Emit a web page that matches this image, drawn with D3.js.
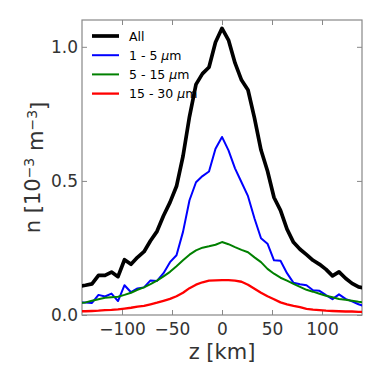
<!DOCTYPE html>
<html>
<head>
<meta charset="utf-8">
<script src="https://cdn.jsdelivr.net/npm/d3@7"></script>
<style>
  body { margin: 0; background: #fff; }
  text { font-family: "DejaVu Sans", sans-serif; }
</style>
</head>
<body>
<svg id="chart" width="382" height="382"></svg>
<script>
// altitude grid [km]
const zKm = [-143, -136.5, -130, -123.5, -117, -110.5, -104, -97.5, -91, -84.5, -78, -71.5, -65, -58.5, -52, -45.5, -39, -32.5, -26, -19.5, -13, -6.5,
  0, 6.5, 13, 19.5, 26, 32.5, 39, 45.5, 52, 58.5, 65, 71.5, 78, 84.5, 91, 97.5, 104, 110.5, 117, 123.5, 130, 136.5, 143];

// densities [1e-3 m^-3]
const nAll = [0.107, 0.111, 0.116, 0.148, 0.148, 0.160, 0.143, 0.206, 0.189, 0.215, 0.236, 0.277, 0.312, 0.370, 0.420, 0.480, 0.592, 0.740, 0.860, 0.900, 0.924, 1.017,
  1.069, 1.025, 0.940, 0.876, 0.839, 0.734, 0.615, 0.537, 0.438, 0.390, 0.320, 0.271, 0.245, 0.225, 0.204, 0.189, 0.170, 0.146, 0.161, 0.137, 0.118, 0.105, 0.100];
const n1to5 = [0.047, 0.047, 0.045, 0.075, 0.069, 0.080, 0.052, 0.111, 0.085, 0.099, 0.103, 0.129, 0.127, 0.156, 0.197, 0.223, 0.310, 0.428, 0.495, 0.518, 0.535, 0.620,
  0.664, 0.614, 0.547, 0.495, 0.443, 0.360, 0.286, 0.266, 0.204, 0.202, 0.156, 0.120, 0.115, 0.111, 0.092, 0.090, 0.074, 0.059, 0.077, 0.060, 0.051, 0.040, 0.032];
const n5to15 = [0.044, 0.047, 0.053, 0.059, 0.064, 0.066, 0.068, 0.075, 0.083, 0.094, 0.103, 0.115, 0.128, 0.144, 0.161, 0.182, 0.204, 0.225, 0.241, 0.251, 0.256, 0.262,
  0.272, 0.264, 0.253, 0.243, 0.234, 0.215, 0.197, 0.172, 0.154, 0.139, 0.128, 0.116, 0.105, 0.094, 0.087, 0.079, 0.072, 0.066, 0.060, 0.057, 0.053, 0.049, 0.047];
const n15to30 = [0.014, 0.014, 0.015, 0.016, 0.018, 0.019, 0.021, 0.024, 0.027, 0.031, 0.034, 0.040, 0.046, 0.053, 0.060, 0.070, 0.083, 0.100, 0.113, 0.122, 0.128, 0.129,
  0.130, 0.130, 0.128, 0.124, 0.113, 0.098, 0.083, 0.070, 0.059, 0.047, 0.040, 0.034, 0.029, 0.023, 0.020, 0.018, 0.016, 0.015, 0.014, 0.013, 0.013, 0.012, 0.012];

const xTicks = [-100, -50, 0, 50, 100];
const yTicks = [0.0, 0.5, 1.0];

const series = [
  { label: "All", values: nAll, color: "#000000", width: 3.7 },
  { label: "1 - 5 ", values: n1to5, color: "#0000ff", width: 2 },
  { label: "5 - 15 ", values: n5to15, color: "#008000", width: 2 },
  { label: "15 - 30 ", values: n15to30, color: "#ff0000", width: 2.3 }
];

const svg = d3.select("#chart");
const margin = { top: 20, right: 20, bottom: 67, left: 82 };
const width = 382 - margin.left - margin.right;
const height = 382 - margin.top - margin.bottom;

const x = d3.scaleLinear().domain([-140, 140]).range([0, width]);
const y = d3.scaleLinear().domain([0, 1.1]).range([height, 0]);

const g = svg.append("g")
  .attr("transform", "translate(" + margin.left + "," + margin.top + ")");

g.append("clipPath").attr("id", "clip")
  .append("rect").attr("width", width).attr("height", height);

// axes, ticks pointing inward on all four sides
function styleAxis(sel) {
  sel.select(".domain").remove();
  sel.selectAll(".tick line").attr("stroke", "#888");
  sel.selectAll(".tick text").attr("fill", "#333").style("font-size", "17px");
}

g.append("g").attr("transform", "translate(0," + height + ")")
  .call(d3.axisBottom(x).tickValues(xTicks).tickSizeInner(-5).tickSizeOuter(0).tickPadding(8)
    .tickFormat(d => d3.format("d")(d).replace("-", "\u2212")))
  .call(styleAxis);
g.append("g")
  .call(d3.axisTop(x).tickValues(xTicks).tickSizeInner(-5).tickSizeOuter(0).tickFormat(""))
  .call(styleAxis);
g.append("g")
  .call(d3.axisLeft(y).tickValues(yTicks).tickSizeInner(-5).tickSizeOuter(0).tickPadding(4)
    .tickFormat(d3.format(".1f")))
  .call(styleAxis);
g.append("g").attr("transform", "translate(" + width + ",0)")
  .call(d3.axisRight(y).tickValues(yTicks).tickSizeInner(-5).tickSizeOuter(0).tickFormat(""))
  .call(styleAxis);

g.append("rect")
  .attr("width", width).attr("height", height)
  .attr("fill", "none").attr("stroke", "#888").attr("stroke-width", 1.2);

// legend (no frame)
const legend = g.append("g").attr("transform", "translate(10,16)");
series.forEach(function(s, i) {
  const row = legend.append("g").attr("transform", "translate(0," + i * 19.2 + ")");
  row.append("line").attr("x1", 0).attr("x2", 27)
    .attr("stroke", s.color).attr("stroke-width", s.width);
  const t = row.append("text").attr("x", 37).attr("dy", "0.36em")
    .style("font-size", "12.5px").attr("fill", "#000").text(s.label);
  if (i > 0) {
    t.append("tspan").style("font-style", "italic").text("\u03bc");
    t.append("tspan").text("m");
  }
});

// curves
const line = d3.line()
  .x((d, i) => x(zKm[i]))
  .y(d => y(d));

g.append("g").attr("clip-path", "url(#clip)")
  .selectAll("path")
  .data(series)
  .join("path")
  .attr("fill", "none")
  .attr("stroke", d => d.color)
  .attr("stroke-width", d => d.width)
  .attr("stroke-linejoin", "round")
  .attr("d", d => line(d.values));

// axis labels
svg.append("text")
  .attr("x", margin.left + width / 2).attr("y", 359)
  .attr("text-anchor", "middle").attr("fill", "#333")
  .style("font-size", "21px").text("z [km]");

const yl = svg.append("text")
  .attr("transform", "translate(40," + (margin.top + height / 2) + ") rotate(-90)")
  .attr("text-anchor", "middle").attr("fill", "#333")
  .style("font-size", "21px");
yl.append("tspan").text("n [10");
yl.append("tspan").attr("dy", "-0.45em").style("font-size", "14px").text("\u22123");
yl.append("tspan").attr("dy", "0.45em").text(" m");
yl.append("tspan").attr("dy", "-0.45em").style("font-size", "14px").text("\u22123");
yl.append("tspan").attr("dy", "0.45em").text("]");
</script>
</body>
</html>
